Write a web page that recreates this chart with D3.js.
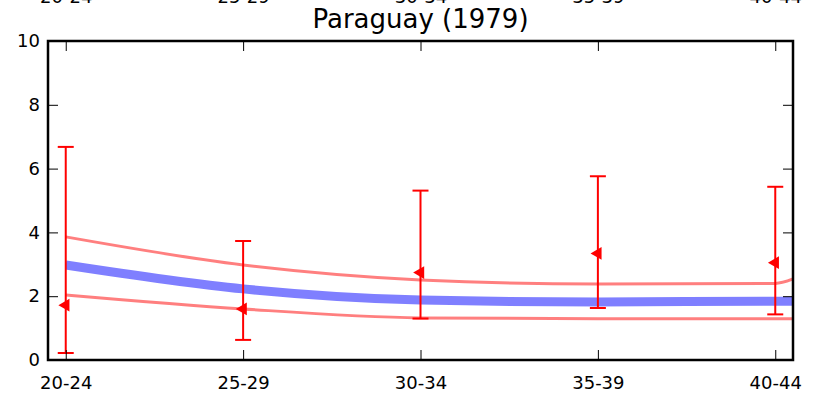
<!DOCTYPE html>
<html>
<head>
<meta charset="utf-8">
<script src="https://cdn.jsdelivr.net/npm/d3@7"></script>
<style>
  body { margin: 0; background: #fff; }
  text { font-family: "DejaVu Sans", sans-serif; fill: #000; }
</style>
</head>
<body>
<div id="chart"></div>
<script>
// age groups
var categories = ["20-24", "25-29", "30-34", "35-39", "40-44"];
var yTicks = [0, 2, 4, 6, 8, 10];

// smooth curves (positions in category index, last point runs to the frame edge)
var curveX = [0, 1, 2, 3, 4, 4.1];
var meanLine = [2.98, 2.23, 1.88, 1.82, 1.84, 1.84];
var upperLine = [3.86, 2.98, 2.51, 2.38, 2.40, 2.54];
var lowerLine = [2.04, 1.60, 1.32, 1.29, 1.29, 1.29];

// observed points with error bars
var obsValue = [1.72, 1.60, 2.74, 3.34, 3.05];
var obsLow = [0.22, 0.63, 1.30, 1.63, 1.43];
var obsHigh = [6.68, 3.73, 5.31, 5.76, 5.43];

var W = 814, H = 393;
var margin = {top: 41, right: 21, bottom: 33, left: 48},
    width = W - margin.left - margin.right,
    height = H - margin.top - margin.bottom;

var svg = d3.select("#chart")
  .append("svg")
    .attr("width", W)
    .attr("height", H)
  .append("g")
    .attr("transform", "translate(" + margin.left + "," + margin.top + ")");

var x = d3.scaleLinear().domain([-0.1, 4.1]).range([0, width]);
var y = d3.scaleLinear().domain([0, 10]).range([height, 0]);

svg.append("clipPath").attr("id", "plotclip")
  .append("rect").attr("width", width).attr("height", height);

// curves
var line = d3.line()
  .x(function(d) { return x(d[0]); })
  .y(function(d) { return y(d[1]); })
  .curve(d3.curveMonotoneX);

function pts(vals) { return vals.map(function(v, i) { return [curveX[i], v]; }); }

var curves = svg.append("g").attr("clip-path", "url(#plotclip)");
curves.append("path").attr("d", line(pts(upperLine)))
  .attr("fill", "none").attr("stroke", "#ff0000").attr("stroke-opacity", 0.5).attr("stroke-width", 3);
curves.append("path").attr("d", line(pts(lowerLine)))
  .attr("fill", "none").attr("stroke", "#ff0000").attr("stroke-opacity", 0.5).attr("stroke-width", 3);
curves.append("path").attr("d", line(pts(meanLine)))
  .attr("fill", "none").attr("stroke", "#0000ff").attr("stroke-opacity", 0.5).attr("stroke-width", 9);

// error bars
var obs = categories.map(function(c, i) {
  return {i: i, v: obsValue[i], lo: obsLow[i], hi: obsHigh[i]};
});
var eb = svg.append("g").selectAll("g").data(obs).enter().append("g");
eb.append("line")
  .attr("x1", function(d) { return x(d.i); }).attr("x2", function(d) { return x(d.i); })
  .attr("y1", function(d) { return y(d.lo); }).attr("y2", function(d) { return y(d.hi); })
  .attr("stroke", "red").attr("stroke-width", 2);
eb.append("line")
  .attr("x1", function(d) { return x(d.i) - 8; }).attr("x2", function(d) { return x(d.i) + 8; })
  .attr("y1", function(d) { return y(d.lo); }).attr("y2", function(d) { return y(d.lo); })
  .attr("stroke", "red").attr("stroke-width", 2);
eb.append("line")
  .attr("x1", function(d) { return x(d.i) - 8; }).attr("x2", function(d) { return x(d.i) + 8; })
  .attr("y1", function(d) { return y(d.hi); }).attr("y2", function(d) { return y(d.hi); })
  .attr("stroke", "red").attr("stroke-width", 2);
eb.append("path")
  .attr("d", d3.symbol().type(d3.symbolTriangle).size(70))
  .attr("transform", function(d) { return "translate(" + x(d.i) + "," + y(d.v) + ") rotate(-90)"; })
  .attr("fill", "red");

// axes with inward ticks
var xi = categories.map(function(c, i) { return i; });
svg.append("g")
  .attr("transform", "translate(0," + height + ")")
  .call(d3.axisBottom(x).tickValues(xi).tickSize(-10).tickPadding(16)
    .tickFormat(function(d) { return categories[d]; }))
  .call(function(g) { g.select(".domain").remove(); })
  .selectAll("text").style("font-size", "18px").attr("font-family", "DejaVu Sans");

// labels of the panel above, cut by the top edge
svg.append("g")
  .call(d3.axisTop(x).tickValues(xi).tickSize(-10).tickPadding(38)
    .tickFormat(function(d) { return categories[d]; }))
  .call(function(g) { g.select(".domain").remove(); })
  .selectAll("text").style("font-size", "18px").attr("font-family", "DejaVu Sans");

svg.append("g")
  .call(d3.axisLeft(y).tickValues(yTicks).tickSize(-10).tickPadding(8))
  .call(function(g) { g.select(".domain").remove(); })
  .selectAll("text").style("font-size", "18px").attr("font-family", "DejaVu Sans");

svg.append("g")
  .attr("transform", "translate(" + width + ",0)")
  .call(d3.axisRight(y).tickValues(yTicks).tickSize(-10).tickFormat(""))
  .call(function(g) { g.select(".domain").remove(); });

svg.selectAll(".tick line").attr("stroke", "#000");

// frame
svg.append("rect")
  .attr("width", width).attr("height", height)
  .attr("fill", "none").attr("stroke", "#000").attr("stroke-width", 2.5);

// title
svg.append("text")
  .attr("x", width / 2)
  .attr("y", -13)
  .attr("text-anchor", "middle")
  .style("font-size", "26px")
  .text("Paraguay (1979)");
</script>
</body>
</html>
